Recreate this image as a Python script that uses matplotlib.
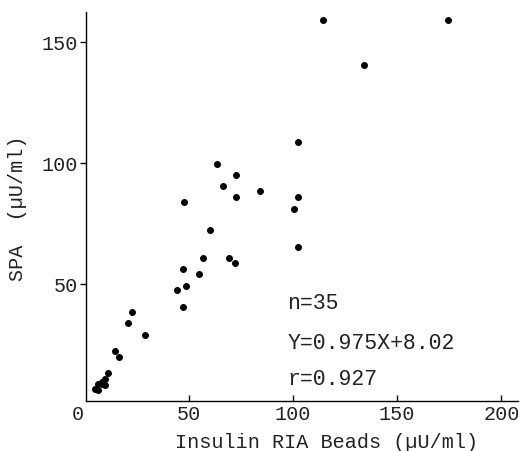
import matplotlib
matplotlib.use("Agg")
import matplotlib.pyplot as plt

# Data (Insulin RIA Beads vs SPA, µU/ml)
ria_beads = [114.3, 174.3, 134.2, 102.6, 63.5, 72.8, 66.6, 84.4, 72.6, 102.6,
             100.7, 47.7, 60.2, 102.5, 56.8, 69.1, 72.0, 47.3, 55.0, 48.8,
             44.3, 47.3, 23.0, 20.9, 28.8, 14.5, 16.4, 11.4, 10.0, 6.6,
             8.4, 10.0, 4.9, 6.6, 8.2]
spa = [159.2, 159.2, 140.8, 108.9, 99.8, 95.2, 90.8, 88.4, 86.1, 86.1,
       81.3, 84.1, 72.6, 65.4, 61.0, 61.0, 58.7, 56.5, 54.3, 49.4,
       47.5, 40.5, 38.4, 34.0, 29.0, 22.4, 20.0, 13.2, 10.7, 8.8,
       8.8, 8.5, 6.6, 6.2, 9.6]
x_ticks = [50, 100, 150, 200]
y_ticks = [50, 100, 150]
stats_lines = ["n=35", "Y=0.975X+8.02", "r=0.927"]
stats_y = [41.9, 25.7, 10.5]

FONT = "Liberation Mono"

fig = plt.figure(figsize=(5.21, 4.51), dpi=100)
ax = fig.add_axes([86/521, 50/451, (518-86)/521, (401-12)/451])

ax.plot(ria_beads, spa, linestyle="none", marker="o", ms=4.0, color="black")

ax.set_xlim(0.7, 208)
ax.set_ylim(1.8, 162.5)

for s in ["top", "right"]:
    ax.spines[s].set_visible(False)
for s in ["left", "bottom"]:
    ax.spines[s].set_linewidth(1.0)
    ax.spines[s].set_color("black")

ax.set_xticks(x_ticks)
ax.set_yticks(y_ticks)
ax.tick_params(axis="x", direction="in", length=4, width=1, pad=3)
ax.tick_params(axis="y", direction="out", length=4, width=1, pad=2)
for lab in ax.get_xticklabels() + ax.get_yticklabels():
    lab.set_fontfamily(FONT)
    lab.set_fontsize(14.5)
    lab.set_color("#222222")

# corner zero label
fig.text(78/521, 1 - 414/451, "0", ha="center", va="center",
         fontfamily=FONT, fontsize=14.5, color="#222222")

fig.text(327/521, 1 - 442/451, "Insulin RIA Beads (\u00b5U/ml)", ha="center",
         va="center", fontfamily=FONT, fontsize=14.5, color="#222222")
fig.text(18/521, 1 - 208/451, "SPA  (\u00b5U/ml)", ha="center", va="center",
         rotation=90, fontfamily=FONT, fontsize=14.5, color="#222222")

for txt, yy in zip(stats_lines, stats_y):
    ax.text(97.4, yy, txt, ha="left", va="center", fontfamily=FONT,
            fontsize=15.5, color="#222222")

fig.savefig("out.png", dpi=100)
